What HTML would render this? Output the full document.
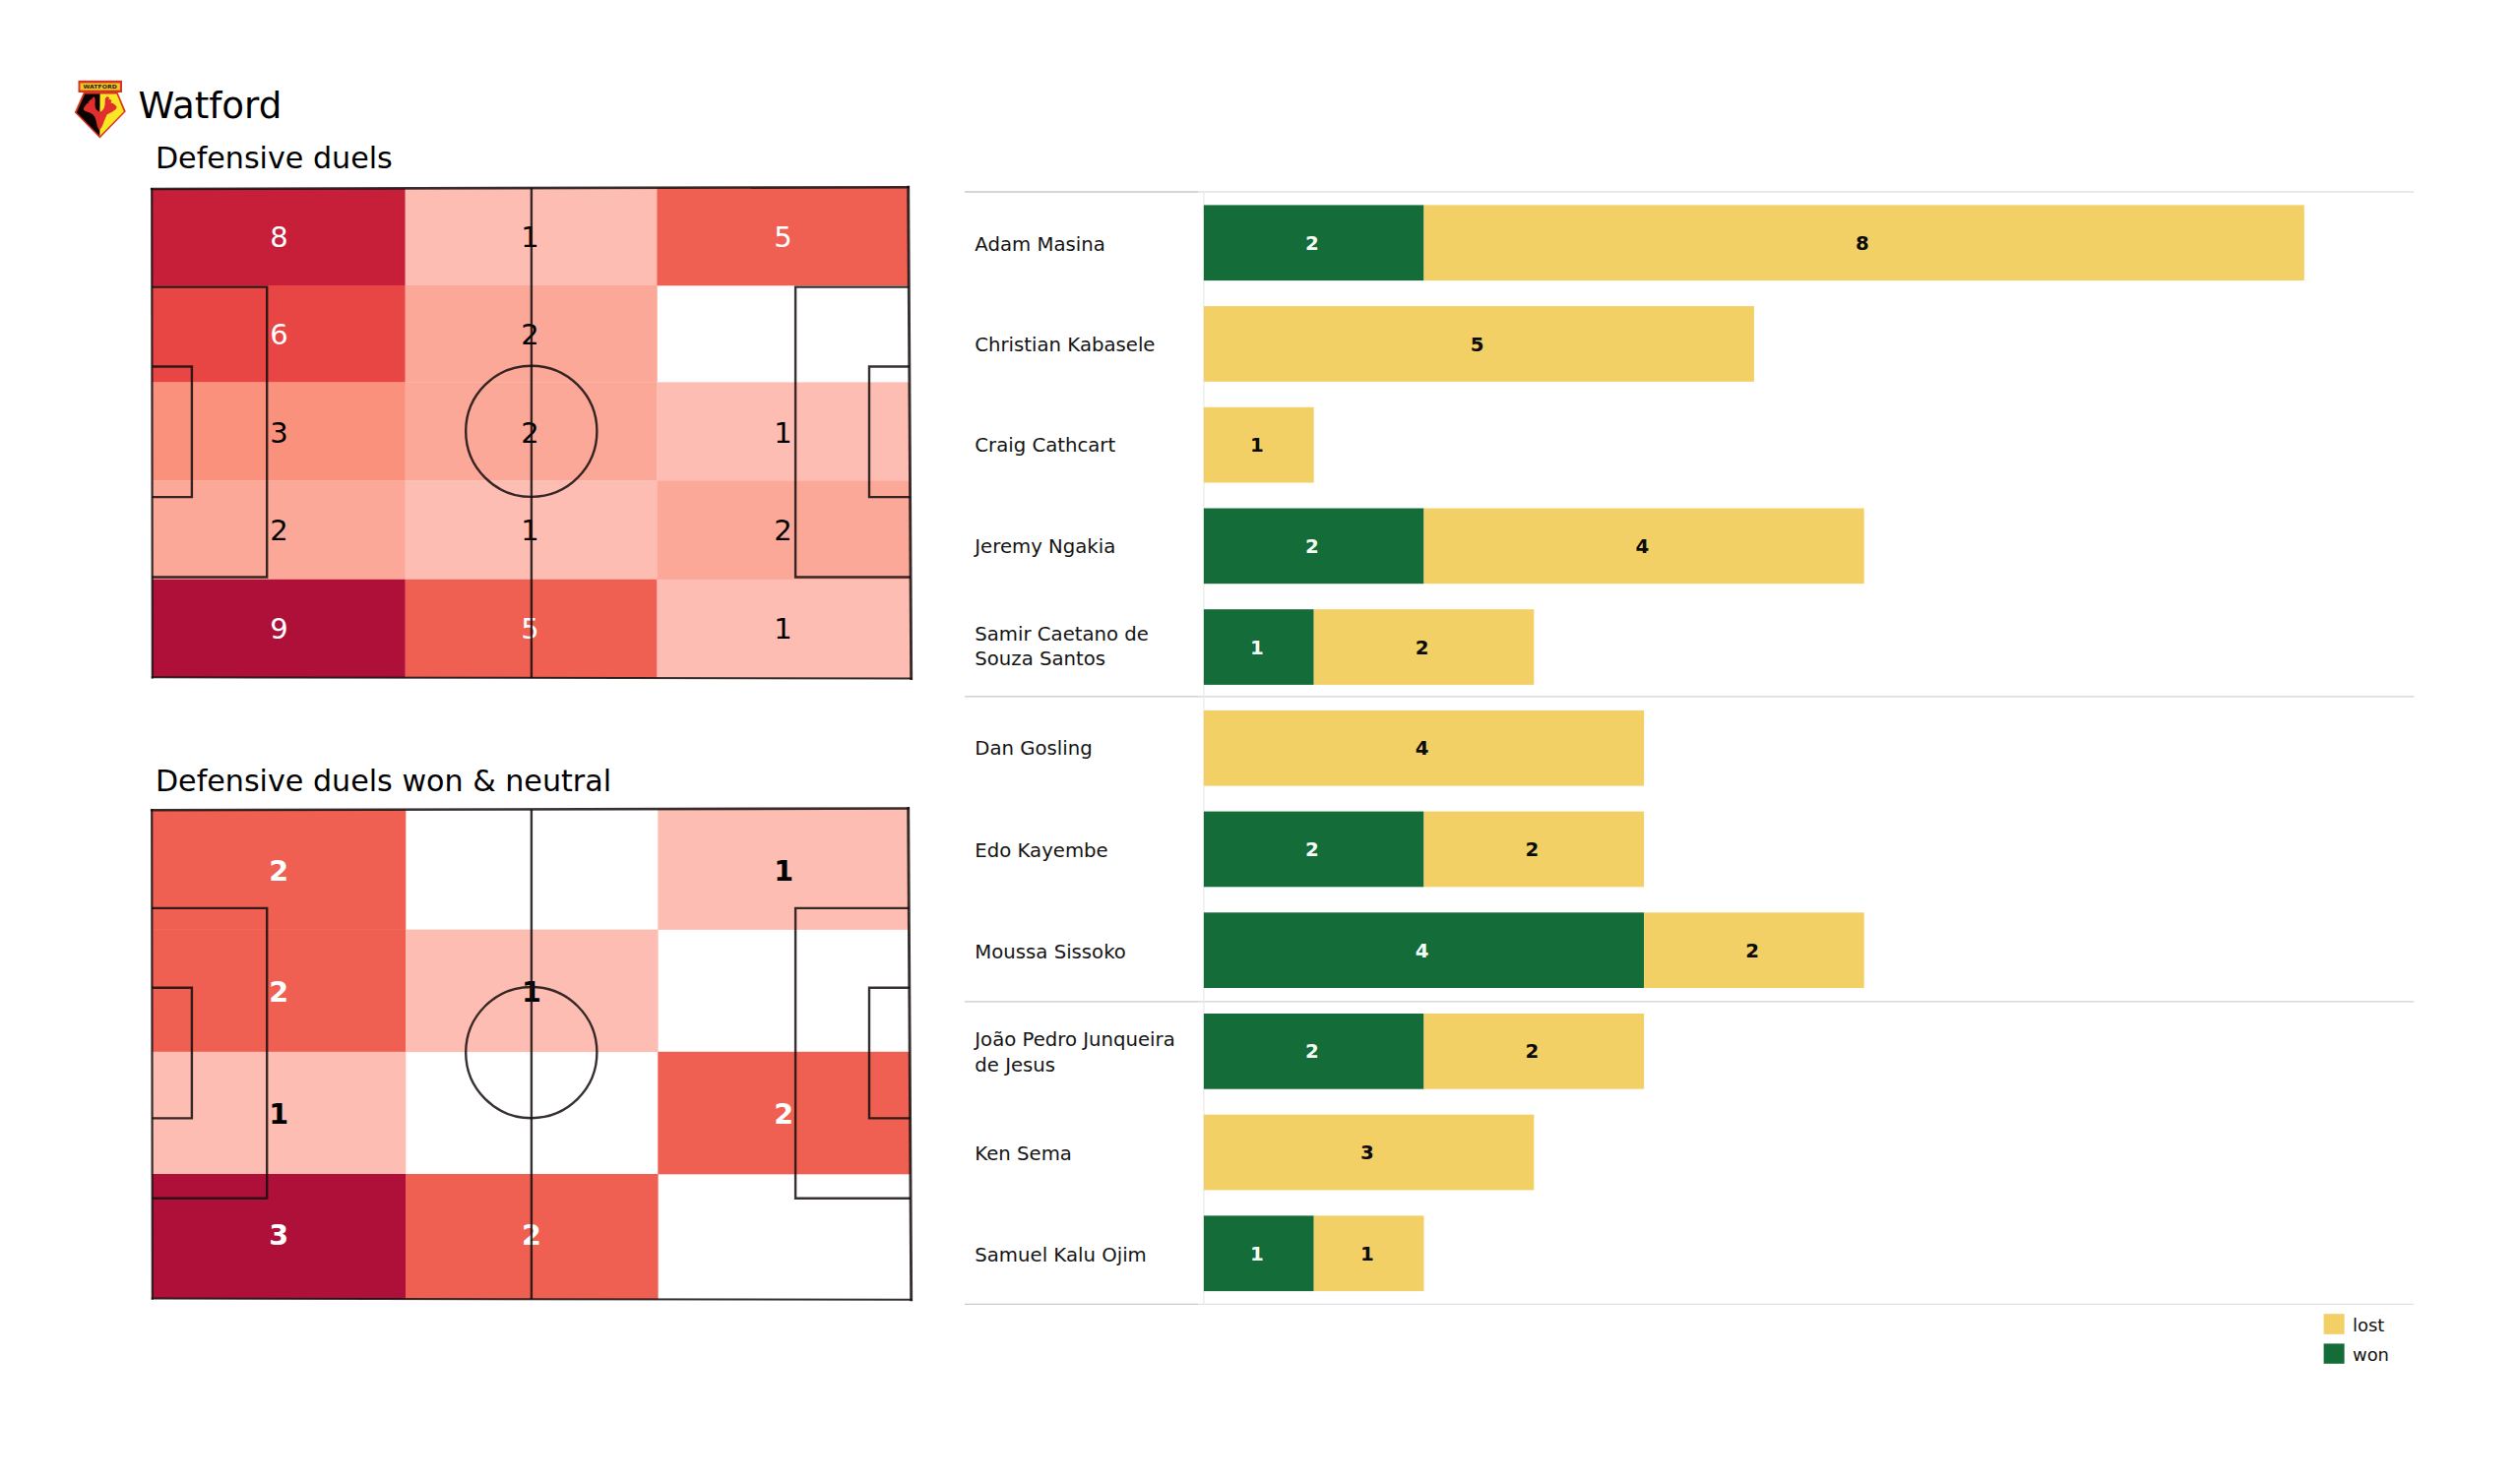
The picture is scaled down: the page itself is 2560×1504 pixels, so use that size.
<!DOCTYPE html>
<html lang="en"><head><meta charset="utf-8"><title>Watford - Defensive duels</title>
<style>
html,body{margin:0;padding:0;background:#fff;}
body{width:2560px;height:1504px;overflow:hidden;}
svg{display:block;font-family:'DejaVu Sans','Liberation Sans',sans-serif;}
.nm{font-size:19.7px;fill:#141414;}
.bl{font-size:19.8px;font-weight:bold;text-anchor:middle;}
.h1{font-size:29px;text-anchor:middle;}
.h2{font-size:28.6px;font-weight:bold;text-anchor:middle;}
</style></head><body>
<svg width="2560" height="1504" viewBox="0 0 2560 1504">
<rect width="2560" height="1504" fill="#ffffff"/>
<g id="logo">
<polygon points="84.85,93.99 119.61,93.99 127.79,113.18 101.41,140.51 75.80,114.20" fill="#d5361f"/>
<polygon points="86.20,95.55 101.68,95.55 101.41,138.35 77.89,114.20" fill="#0d0202"/>
<polygon points="101.68,95.55 118.50,95.55 125.80,113.18 101.41,138.35" fill="#fbe626"/>
<polygon points="84.84,110.08 86.28,107.76 88.07,105.61 88.71,104.82 90.22,105.68 89.32,104.10 89.86,103.46 92.01,101.31 92.54,100.77 94.08,101.74 93.15,100.13 93.80,99.52 95.59,98.27 96.48,99.88 96.66,103.10 96.48,106.32 96.84,109.19 97.74,111.34 99.53,112.77 101.68,113.67 103.82,112.41 105.61,109.91 106.51,106.68 106.69,103.10 106.87,99.88 108.84,97.91 110.63,98.98 111.17,99.70 109.98,101.38 111.88,100.67 113.49,102.39 112.35,104.35 115.64,105.43 117.07,106.68 118.69,108.65 117.97,110.80 116.00,112.23 113.85,113.67 111.34,115.10 108.84,116.35 107.76,118.50 106.69,121.01 105.61,123.51 104.54,126.38 103.11,129.60 100.96,132.47 99.53,129.96 98.45,126.74 97.74,123.51 97.02,120.65 95.95,118.14 93.80,115.99 90.57,114.20 87.35,113.13 85.20,112.05" fill="#e12f2d"/>
<rect x="79.5" y="81.8" width="44.5" height="12.2" fill="#d5361f"/>
<rect x="81.5" y="84.4" width="40.4" height="7.2" fill="#f4c62c"/>
<text x="101.7" y="90.0" font-size="5.4" font-weight="bold" text-anchor="middle" fill="#2a2408" textLength="34.3" lengthAdjust="spacingAndGlyphs">WATFORD</text>
</g>
<text x="140.5" y="119.5" font-size="37.2" fill="#000">Watford</text>
<text x="157.9" y="170.6" font-size="30.15" fill="#000">Defensive duels</text>
<text x="157.9" y="803.5" font-size="30.15" fill="#000">Defensive duels won &amp; neutral</text>
<g>
<clipPath id="clip1"><polygon points="154.2,192.0 922.7,190.2 925.7,689.5 154.8,688.3"/></clipPath>
<g clip-path="url(#clip1)">
<rect x="152.00" y="189.00" width="259.90" height="101.30" fill="#c71e3a"/>
<rect x="411.60" y="189.00" width="256.10" height="101.30" fill="#febdb3"/>
<rect x="667.40" y="189.00" width="260.90" height="101.30" fill="#ef6053"/>
<rect x="152.00" y="290.00" width="259.90" height="98.70" fill="#e84545"/>
<rect x="411.60" y="290.00" width="256.10" height="98.70" fill="#fca899"/>
<rect x="152.00" y="388.40" width="259.90" height="100.20" fill="#f9917d"/>
<rect x="411.60" y="388.40" width="256.10" height="100.20" fill="#fca899"/>
<rect x="667.40" y="388.40" width="260.90" height="100.20" fill="#febdb3"/>
<rect x="152.00" y="488.30" width="259.90" height="100.80" fill="#fca899"/>
<rect x="411.60" y="488.30" width="256.10" height="100.80" fill="#febdb3"/>
<rect x="667.40" y="488.30" width="260.90" height="100.80" fill="#fca899"/>
<rect x="152.00" y="588.80" width="259.90" height="103.50" fill="#ae103a"/>
<rect x="411.60" y="588.80" width="256.10" height="103.50" fill="#ef6053"/>
<rect x="667.40" y="588.80" width="260.90" height="103.50" fill="#febdb3"/>
</g>
<text class="h1" x="283.5" y="251.0" fill="#fff">8</text>
<text class="h1" x="538.4" y="251.0" fill="#000">1</text>
<text class="h1" x="795.6" y="251.0" fill="#fff">5</text>
<text class="h1" x="283.5" y="350.3" fill="#fff">6</text>
<text class="h1" x="538.4" y="350.3" fill="#000">2</text>
<text class="h1" x="283.5" y="450.2" fill="#000">3</text>
<text class="h1" x="538.4" y="450.2" fill="#000">2</text>
<text class="h1" x="795.6" y="450.2" fill="#000">1</text>
<text class="h1" x="283.5" y="549.4" fill="#000">2</text>
<text class="h1" x="538.4" y="549.4" fill="#000">1</text>
<text class="h1" x="795.6" y="549.4" fill="#000">2</text>
<text class="h1" x="283.5" y="648.9" fill="#fff">9</text>
<text class="h1" x="538.4" y="648.9" fill="#fff">5</text>
<text class="h1" x="795.6" y="648.9" fill="#000">1</text>
<g fill="none" stroke="#160e0e" stroke-opacity="0.86" stroke-width="2.4" stroke-linejoin="miter">
<line x1="154.2" y1="192.0" x2="922.7" y2="190.2" stroke-width="2.6" stroke-linecap="square"/>
<line x1="922.7" y1="190.2" x2="925.7" y2="689.5" stroke-width="2.9" stroke-linecap="square"/>
<line x1="925.7" y1="689.5" x2="154.8" y2="688.3" stroke-width="2.0" stroke-linecap="square"/>
<line x1="154.8" y1="688.3" x2="154.2" y2="192.0" stroke-width="2.2" stroke-linecap="square"/>
<line x1="539.9" y1="191.1" x2="539.9" y2="689.0"/>
<circle cx="539.8" cy="438.3" r="66.6"/>
<polyline points="154.4,291.6 271.2,291.6 271.2,586.5 154.6,586.5"/>
<polyline points="154.4,372.5 194.9,372.5 194.9,505.1 154.6,505.1"/>
<polyline points="923.4,291.6 808.1,291.6 808.1,586.5 925.1,586.5"/>
<polyline points="923.9,372.5 883.0,372.5 883.0,505.1 924.6,505.1"/>
</g>
</g>
<g>
<clipPath id="clip2"><polygon points="154.2,823.3 922.7,821.5 925.7,1320.8 154.8,1319.6"/></clipPath>
<g clip-path="url(#clip2)">
<rect x="152.00" y="819.00" width="260.30" height="125.90" fill="#ef6053"/>
<rect x="668.30" y="819.00" width="260.00" height="125.90" fill="#febdb3"/>
<rect x="152.00" y="944.60" width="260.30" height="124.50" fill="#ef6053"/>
<rect x="412.00" y="944.60" width="256.60" height="124.50" fill="#febdb3"/>
<rect x="152.00" y="1068.80" width="260.30" height="124.50" fill="#febdb3"/>
<rect x="668.30" y="1068.80" width="260.00" height="124.50" fill="#ef6053"/>
<rect x="152.00" y="1193.00" width="260.30" height="130.30" fill="#ae103a"/>
<rect x="412.00" y="1193.00" width="256.60" height="130.30" fill="#ef6053"/>
</g>
<text class="h2" x="283.3" y="894.7" fill="#fff">2</text>
<text class="h2" x="796.2" y="894.7" fill="#000">1</text>
<text class="h2" x="283.3" y="1017.9" fill="#fff">2</text>
<text class="h2" x="540.0" y="1017.9" fill="#000">1</text>
<text class="h2" x="283.3" y="1142.0" fill="#000">1</text>
<text class="h2" x="796.2" y="1142.0" fill="#fff">2</text>
<text class="h2" x="283.3" y="1265.4" fill="#fff">3</text>
<text class="h2" x="540.0" y="1265.4" fill="#fff">2</text>
<g fill="none" stroke="#160e0e" stroke-opacity="0.86" stroke-width="2.4" stroke-linejoin="miter">
<line x1="154.2" y1="823.3" x2="922.7" y2="821.5" stroke-width="2.6" stroke-linecap="square"/>
<line x1="922.7" y1="821.5" x2="925.7" y2="1320.8" stroke-width="2.9" stroke-linecap="square"/>
<line x1="925.7" y1="1320.8" x2="154.8" y2="1319.6" stroke-width="2.0" stroke-linecap="square"/>
<line x1="154.8" y1="1319.6" x2="154.2" y2="823.3" stroke-width="2.2" stroke-linecap="square"/>
<line x1="539.9" y1="822.4" x2="539.9" y2="1320.3"/>
<circle cx="539.8" cy="1069.6" r="66.6"/>
<polyline points="154.4,922.9 271.2,922.9 271.2,1217.8 154.6,1217.8"/>
<polyline points="154.4,1003.8 194.9,1003.8 194.9,1136.4 154.6,1136.4"/>
<polyline points="923.4,922.9 808.1,922.9 808.1,1217.8 925.1,1217.8"/>
<polyline points="923.9,1003.8 883.0,1003.8 883.0,1136.4 924.6,1136.4"/>
</g>
</g>
<line x1="980" y1="195.0" x2="1217" y2="195.0" stroke="#c9c9c9" stroke-width="1.3"/>
<line x1="1217" y1="195.0" x2="2452.3" y2="195.0" stroke="#e1e1e1" stroke-width="1.3"/>
<line x1="980" y1="707.8" x2="1217" y2="707.8" stroke="#c9c9c9" stroke-width="1.3"/>
<line x1="1217" y1="707.8" x2="2452.3" y2="707.8" stroke="#d2d2d2" stroke-width="1.3"/>
<line x1="980" y1="1017.8" x2="1217" y2="1017.8" stroke="#c9c9c9" stroke-width="1.3"/>
<line x1="1217" y1="1017.8" x2="2452.3" y2="1017.8" stroke="#d2d2d2" stroke-width="1.3"/>
<line x1="980" y1="1325.4" x2="1217" y2="1325.4" stroke="#c9c9c9" stroke-width="1.3"/>
<line x1="1217" y1="1325.4" x2="2452.3" y2="1325.4" stroke="#e1e1e1" stroke-width="1.3"/>
<line x1="1222.9" y1="195" x2="1222.9" y2="1325.4" stroke="#ebebeb" stroke-width="1.3"/>
<rect x="1222.9" y="208.4" width="223.6" height="76.7" fill="#146c38"/>
<text class="bl" x="1332.9" y="253.8" fill="#f3fbf5">2</text>
<rect x="1446.5" y="208.4" width="894.3" height="76.7" fill="#f2d066"/>
<text class="bl" x="1891.8" y="253.8" fill="#0c0c0c">8</text>
<text class="nm" x="990.3" y="254.5">Adam Masina</text>
<rect x="1222.9" y="311.1" width="559.0" height="76.7" fill="#f2d066"/>
<text class="bl" x="1500.6" y="356.5" fill="#0c0c0c">5</text>
<text class="nm" x="990.3" y="356.8">Christian Kabasele</text>
<rect x="1222.9" y="413.8" width="111.8" height="76.7" fill="#f2d066"/>
<text class="bl" x="1277.0" y="459.2" fill="#0c0c0c">1</text>
<text class="nm" x="990.3" y="458.9">Craig Cathcart</text>
<rect x="1222.9" y="516.5" width="223.6" height="76.7" fill="#146c38"/>
<text class="bl" x="1332.9" y="561.9" fill="#f3fbf5">2</text>
<rect x="1446.5" y="516.5" width="447.2" height="76.7" fill="#f2d066"/>
<text class="bl" x="1668.3" y="561.9" fill="#0c0c0c">4</text>
<text class="nm" x="990.3" y="562.0">Jeremy Ngakia</text>
<rect x="1222.9" y="619.2" width="111.8" height="76.7" fill="#146c38"/>
<text class="bl" x="1277.0" y="664.6" fill="#f3fbf5">1</text>
<rect x="1334.7" y="619.2" width="223.6" height="76.7" fill="#f2d066"/>
<text class="bl" x="1444.7" y="664.6" fill="#0c0c0c">2</text>
<text class="nm" x="990.3" y="650.9">Samir Caetano de</text>
<text class="nm" x="990.3" y="676.3">Souza Santos</text>
<rect x="1222.9" y="721.9" width="447.2" height="76.7" fill="#f2d066"/>
<text class="bl" x="1444.7" y="767.2" fill="#0c0c0c">4</text>
<text class="nm" x="990.3" y="766.8">Dan Gosling</text>
<rect x="1222.9" y="824.6" width="223.6" height="76.7" fill="#146c38"/>
<text class="bl" x="1332.9" y="870.0" fill="#f3fbf5">2</text>
<rect x="1446.5" y="824.6" width="223.6" height="76.7" fill="#f2d066"/>
<text class="bl" x="1556.5" y="870.0" fill="#0c0c0c">2</text>
<text class="nm" x="990.3" y="871.0">Edo Kayembe</text>
<rect x="1222.9" y="927.3" width="447.2" height="76.7" fill="#146c38"/>
<text class="bl" x="1444.7" y="972.6" fill="#f3fbf5">4</text>
<rect x="1670.1" y="927.3" width="223.6" height="76.7" fill="#f2d066"/>
<text class="bl" x="1780.1" y="972.6" fill="#0c0c0c">2</text>
<text class="nm" x="990.3" y="973.5">Moussa Sissoko</text>
<rect x="1222.9" y="1030.0" width="223.6" height="76.7" fill="#146c38"/>
<text class="bl" x="1332.9" y="1075.3" fill="#f3fbf5">2</text>
<rect x="1446.5" y="1030.0" width="223.6" height="76.7" fill="#f2d066"/>
<text class="bl" x="1556.5" y="1075.3" fill="#0c0c0c">2</text>
<text class="nm" x="990.3" y="1063.4">João Pedro Junqueira</text>
<text class="nm" x="990.3" y="1088.8">de Jesus</text>
<rect x="1222.9" y="1132.7" width="335.4" height="76.7" fill="#f2d066"/>
<text class="bl" x="1388.8" y="1178.0" fill="#0c0c0c">3</text>
<text class="nm" x="990.3" y="1179.4">Ken Sema</text>
<rect x="1222.9" y="1235.4" width="111.8" height="76.7" fill="#146c38"/>
<text class="bl" x="1277.0" y="1280.8" fill="#f3fbf5">1</text>
<rect x="1334.7" y="1235.4" width="111.8" height="76.7" fill="#f2d066"/>
<text class="bl" x="1388.8" y="1280.8" fill="#0c0c0c">1</text>
<text class="nm" x="990.3" y="1281.6">Samuel Kalu Ojim</text>
<rect x="2360.6" y="1335.2" width="21" height="20.6" fill="#f2d066"/>
<rect x="2360.6" y="1365.4" width="21" height="20.4" fill="#146c38"/>
<text x="2390" y="1353" font-size="17.9" fill="#111">lost</text>
<text x="2390" y="1383.2" font-size="17.9" fill="#111">won</text>
</svg>
</body></html>
